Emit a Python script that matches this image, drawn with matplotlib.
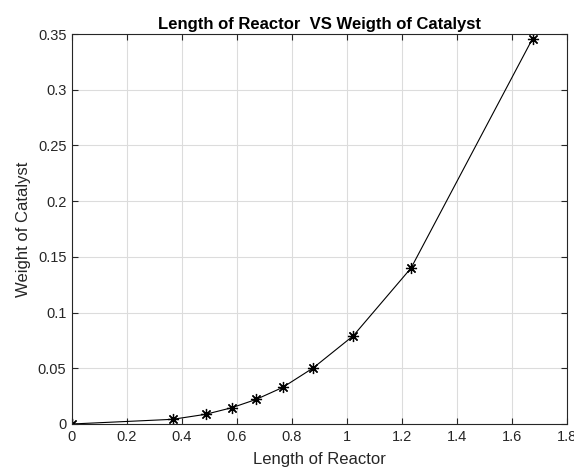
import matplotlib
matplotlib.use('Agg')
import matplotlib.pyplot as plt
import numpy as np

plt.rcParams['font.family'] = ['Liberation Sans', 'DejaVu Sans']

# reactor length vs catalyst weight
length = [0, 0.366, 0.486, 0.581, 0.669, 0.766, 0.877, 1.023, 1.233, 1.675]
weight = [0, 0.0042, 0.0087, 0.0146, 0.022, 0.0328, 0.0503, 0.0792, 0.140, 0.346]
xticks = [0, 0.2, 0.4, 0.6, 0.8, 1, 1.2, 1.4, 1.6, 1.8]
yticks = [0, 0.05, 0.1, 0.15, 0.2, 0.25, 0.3, 0.35]

fig = plt.figure(figsize=(5.74, 4.73), dpi=100)
ax = fig.add_axes([0.1254, 0.1036, 0.8624, 0.8244])
ax.plot(length, weight, color='black', linewidth=0.8, marker=(8, 2, 0),
        markersize=8, markeredgewidth=0.9)
ax.set_xlim(0, 1.8)
ax.set_ylim(0, 0.35)
ax.set_xticks(xticks)
ax.set_xticklabels(['0', '0.2', '0.4', '0.6', '0.8', '1', '1.2', '1.4', '1.6', '1.8'])
ax.set_yticks(yticks)
ax.set_yticklabels(['0', '0.05', '0.1', '0.15', '0.2', '0.25', '0.3', '0.35'])
ax.grid(True, color='#dcdcdc', linewidth=0.8)
ax.set_axisbelow(True)
ax.tick_params(direction='in', length=4, top=True, right=True, labelsize=10.5,
               colors='#262626', width=0.8, pad=4)
for s in ax.spines.values():
    s.set_color('#262626')
    s.set_linewidth(0.8)
ax.set_xlabel('Length of Reactor', fontsize=12, color='#262626', labelpad=6)
ax.set_ylabel('Weight of Catalyst', fontsize=12, color='#262626', labelpad=5)
ax.set_title('Length of Reactor  VS Weigth of Catalyst', fontsize=12,
             fontweight='bold', pad=4)
fig.savefig('out.png', dpi=100)
